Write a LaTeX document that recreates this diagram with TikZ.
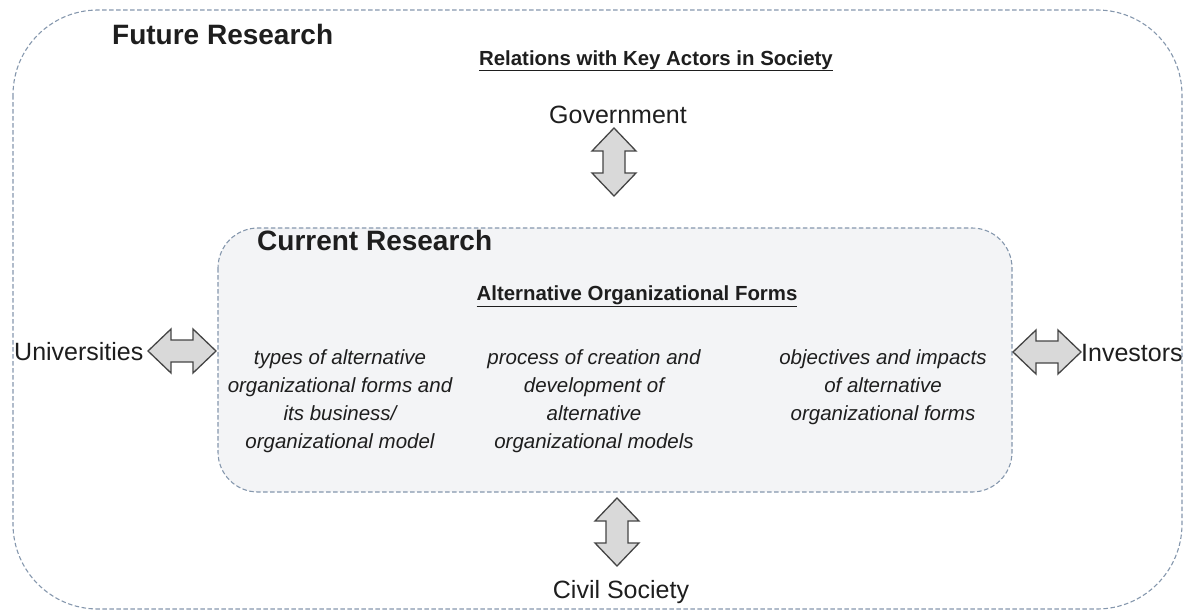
\documentclass[tikz,border=0pt]{standalone}
\usepackage{fontspec}
\setmainfont{Liberation Sans}
\usetikzlibrary{positioning}
\definecolor{boxline}{HTML}{8597AD}
\definecolor{boxfill}{HTML}{F3F4F6}
\definecolor{arrowfill}{HTML}{D9D9D9}
\definecolor{arrowline}{HTML}{454545}
\definecolor{ink}{HTML}{1E1E1E}

\begin{document}
\begin{tikzpicture}[x=1pt, y=-1pt,
	   frame/.style={draw=boxline, dash pattern=on 4.5pt off 2.5pt, line width=1.1pt},
	   heading/.style={font=\fontsize{28}{32}\selectfont\bfseries, text=ink, inner sep=0pt, anchor=base west},
	   sub/.style={font=\fontsize{20.4}{24}\selectfont\bfseries, text=ink, inner sep=0pt, anchor=base},
	   actor/.style={font=\fontsize{25}{30}\selectfont, text=ink, inner sep=0pt},
	   topic/.style={font=\fontsize{20.5}{28}\selectfont\itshape, text=ink, align=center, inner sep=0pt, anchor=north},
	   dbl/.pic={\draw[fill=arrowfill, draw=arrowline, line width=1.3pt, line join=miter]
	     (-34,0) -- (-11,-22) -- (-11,-11) -- (11,-11) -- (11,-22) -- (34,0)
	     -- (11,22) -- (11,11) -- (-11,11) -- (-11,22) -- cycle;}]
	  \useasboundingbox (0,0) rectangle (1186,614);
	  % frames
	  \draw[frame, rounded corners=85pt] (13,10) rectangle (1182,609);
	  \draw[frame, fill=boxfill, rounded corners=40pt] (218,228) rectangle (1012,492);
	  % headings
	  \node[heading] (future) at (112,44) {Future Research};
	  \node[sub] (relations) at (656,65) {\underline{Relations with Key Actors in Society}};
	  \node[heading] (current) at (257,250) {Current Research};
	  \node[sub] (forms) at (637,300) {\underline{Alternative Organizational Forms}};
	  % actors
	  \node[actor, anchor=base] (gov) at (618,123) {Government};
	  \node[actor, anchor=base] (civil) at (621,598) {Civil Society};
	  \node[actor, anchor=base west] (univ) at (14,360) {Universities};
	  \node[actor, anchor=base west] (invest) at (1081,361) {Investors};
	  % topics
	  \node[topic] (types) at (340,349) {types of alternative\\ organizational forms and\\ its business/\\ organizational model};
	  \node[topic] (process) at (594,349) {process of creation and\\ development of\\ alternative\\ organizational models};
	  \node[topic] (objectives) at (883,349) {objectives and impacts\\ of alternative\\ organizational forms};
	  % relations
	  \pic[rotate=90] at (614,162) {dbl};
	  \pic[rotate=90] at (617,532) {dbl};
	  \pic at (182,351) {dbl};
	  \pic at (1047,352) {dbl};
	\end{tikzpicture}
\end{document}
